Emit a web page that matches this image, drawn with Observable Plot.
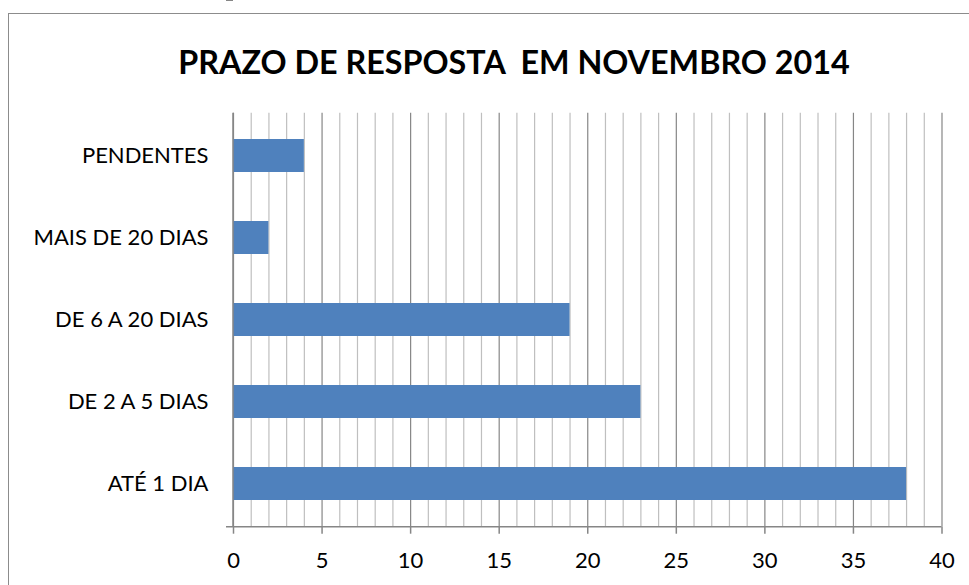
<!DOCTYPE html>
<html>
<head>
<meta charset="utf-8">
<script src="https://cdn.jsdelivr.net/npm/d3@7"></script>
<script src="https://cdn.jsdelivr.net/npm/@observablehq/plot@0.6"></script>
<style>
  html, body { margin: 0; padding: 0; background: #fff; width: 969px; height: 585px; overflow: hidden; }
  #frame { position: absolute; left: 8px; top: 13px; width: 1000px; height: 700px; border: 1.5px solid #8c8c8c; box-sizing: border-box; }
  #title { position: absolute; left: 514px; top: 46px; transform: translateX(-50%); font-family: Lato, sans-serif; font-weight: bold; font-size: 32.3px; line-height: 32px; white-space: pre; color: #000; }
  #chart { position: absolute; left: 0; top: 0; }
</style>
</head>
<body>
<div id="frame"></div>
<div id="chart"></div>
<div id="title">PRAZO DE RESPOSTA  EM NOVEMBRO 2014</div>
<script>
const categories = ["PENDENTES", "MAIS DE 20 DIAS", "DE 6 A 20 DIAS", "DE 2 A 5 DIAS", "ATÉ 1 DIA"];
const values = [4, 2, 19, 23, 38];
const xTicks = [0, 5, 10, 15, 20, 25, 30, 35, 40];
const gridMinor = d3.range(0, 41).filter(v => v % 5 !== 0);

const data = categories.map((c, i) => ({category: c, value: values[i]}));

function axisLines(index, scales, vals, dims) {
  const {x, y} = scales;
  const g = d3.create("svg:g").attr("stroke", "#868686").attr("stroke-width", 1.5).attr("fill", "none");
  const x0 = x(0), x1 = x(40);
  const top = dims.marginTop, bottom = dims.height - dims.marginBottom;
  g.append("line").attr("x1", x0).attr("x2", x0).attr("y1", top).attr("y2", bottom);
  g.append("line").attr("x1", x0 - 7).attr("x2", x1).attr("y1", bottom).attr("y2", bottom);
  const step = y(categories[1]) - y(categories[0]);
  const bw = y.bandwidth != null ? y.bandwidth : 0.4 * step;
  categories.forEach(c => {
    const yc = y(c) + bw / 2;
    [yc - step / 2, yc + step / 2].forEach(yy => {
      g.append("line").attr("x1", x0 - 7).attr("x2", x0).attr("y1", yy).attr("y2", yy);
    });
  });
  return g.node();
}

const chart = Plot.plot({
  width: 969,
  height: 585,
  marginLeft: 233,
  marginRight: 27.5,
  marginTop: 112.7,
  marginBottom: 58.3,
  x: {domain: [0, 40]},
  y: {domain: categories, paddingInner: 0.6, paddingOuter: 0.3},
  style: {fontFamily: "Lato, sans-serif", fontSize: "22px", color: "#000", background: "transparent", overflow: "visible"},
  marks: [
    Plot.ruleX(gridMinor, {stroke: "#bfbfbf", strokeWidth: 1.2}),
    Plot.ruleX(xTicks, {stroke: "#868686", strokeWidth: 1.2}),
    Plot.barX(data, {x: "value", y: "category", fill: "#4F81BD"}),
    Plot.axisX({ticks: xTicks, tickSize: 7, tickPadding: 18, stroke: "#868686", strokeWidth: 1.5, label: null, fontSize: 22, fill: "#000"}),
    Plot.axisY({tickSize: 0, tickPadding: 25, label: null, fontSize: 22, fill: "#000"}),
    axisLines
  ]
});
document.getElementById("chart").appendChild(chart);
</script>
</body>
</html>
